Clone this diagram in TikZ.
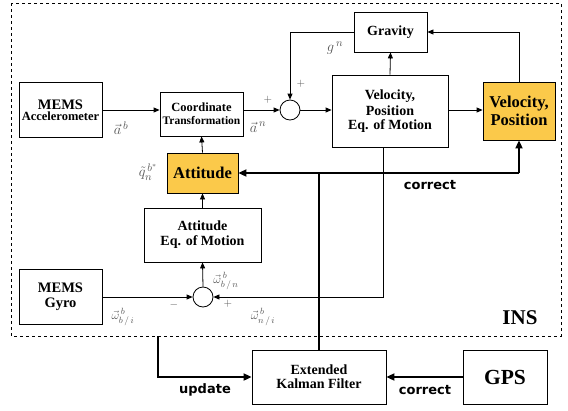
\documentclass[tikz,border=0pt]{standalone}
\usepackage{fontspec}
\setmainfont{Liberation Serif}
\newfontfamily\lblfont{DejaVu Sans}
\usetikzlibrary{arrows.meta,calc}
\definecolor{orng}{HTML}{FBC94A}
\definecolor{lblgrey}{HTML}{555555}
\newcommand{\fs}[1]{\fontsize{#1}{#1}\selectfont}
\tikzset{
  blk/.style={draw, line width=0.8pt, fill=white, align=center, inner sep=0pt, font=\bfseries},
  hot/.style={blk, fill=orng},
  sumc/.style={draw, circle, line width=0.8pt, minimum size=20pt, inner sep=0pt, fill=white},
  thin/.style={line width=0.8pt, -{Triangle[length=6pt,width=5pt]}},
  thk/.style={line width=1.8pt, -{Triangle[length=8pt,width=7pt]}},
  thkline/.style={line width=1.8pt},
  mlab/.style={text=lblgrey, inner sep=0pt},
  cmd/.style={font=\lblfont\bfseries\fs{13}, inner sep=0pt},
}
\begin{document}
\begin{tikzpicture}[x=1pt,y=-1pt]
\useasboundingbox (0,0) rectangle (568,410);
\draw[dashed, line width=0.7pt] (11,3) rectangle (561,336);
% blocks
\node[blk, minimum width=83pt, minimum height=55pt] (acc) at (60.5,110) {\fs{14.5}MEMS\\[-1pt]\fs{12.5}Accelerometer};
\node[blk, minimum width=83pt, minimum height=44pt] (coord) at (201.5,114) {\fs{12.5}Coordinate\\[1pt]\fs{11.5}Transformation};
\node[sumc] (sum1) at (290,110) {};
\node[blk, minimum width=73pt, minimum height=40pt] (grav) at (390.5,32) {\fs{14}Gravity};
\node[blk, minimum width=116pt, minimum height=72pt] (vpe) at (390,111) {\fs{14}Velocity,\\[2pt]\fs{14}Position\\[2pt]\fs{14}Eq. of Motion};
\node[hot, minimum width=72pt, minimum height=58pt] (vp) at (519,111) {\fs{16.5}Velocity,\\[2pt]\fs{16.5}Position};
\node[hot, minimum width=71pt, minimum height=40pt] (att) at (202.5,173) {\fs{16.5}Attitude};
\node[blk, minimum width=117pt, minimum height=54pt] (atte) at (202.5,235) {\fs{14}Attitude\\[3pt]\fs{14}Eq. of Motion};
\node[sumc] (sum2) at (203,297) {};
\node[blk, minimum width=83pt, minimum height=55pt] (gyro) at (60.5,296.5) {\fs{14.5}MEMS\\[3pt]\fs{14.5}Gyro};
\node[blk, minimum width=134pt, minimum height=54pt] (ekf) at (319,377) {\fs{14}Extended\\[2pt]\fs{14}Kalman Filter};
\node[blk, minimum width=84pt, minimum height=54pt] (gps) at (505,377) {\fs{21.5}GPS};
\node[font=\bfseries\fs{21}, inner sep=0pt] (ins) at (520,318) {INS};
% thin connectors
\draw[thin] (acc.east) -- (coord.west |- acc.east);
\draw[thin] (coord.east |- sum1) -- (sum1.west);
\draw[thin] (sum1.east) -- (vpe.west |- sum1);
\draw[thin] (vpe.east |- sum1) -- (vp.west |- sum1);
\draw[thin] (vpe.north) -- (grav.south);
\draw[thin] (vp.north) -- (vp.north |- grav.east) -- (grav.east);
\draw[thin] (grav.west) -- (sum1 |- grav.west) -- (sum1.north);
\draw[thin] (att.north) -- (coord.south);
\draw[thin] (atte.north) -- (att.south);
\draw[thin] (sum2.north) -- (atte.south);
\draw[thin] (gyro.east |- sum2) -- (sum2.west);
\coordinate (vb) at ([xshift=-7pt]vpe.south);
\draw[thin] (vb) -- (vb |- sum2) -- (sum2.east);
% thick connectors
\coordinate (cj) at (vp.south |- att.east);
\draw[thk] (cj) -- (att.east);
\draw[thk] (cj) -- (vp.south);
\draw[thkline] (ekf.north) -- (ekf.north |- cj);
\coordinate (up) at (158,336);
\draw[thk] (up) -- (up |- ekf.west) -- (ekf.west);
\draw[thk] (gps.west) -- (ekf.east);
% labels
\node[mlab, font=\fs{15}] (lab) at (121,128) {$\vec{a}^{\,b}$};
\node[mlab, font=\fs{15}] (lan) at (258,127) {$\vec{a}^{\,n}$};
\node[mlab, font=\fs{11}] (p1) at (268,100) {$+$};
\node[mlab, font=\fs{11}] (p2) at (301,84) {$+$};
\node[mlab, font=\fs{15}] (lg) at (335,48) {$g^{\,n}$};
\node[mlab, font=\fs{15}] (lq) at (148,172) {$\tilde{q}_n^{\,b^*}$};
\node[mlab, font=\fs{13}] (lbn) at (226,281) {$\vec{\omega}^{\,b}_{b\,/\,n}$};
\node[mlab, font=\fs{11}] (m1) at (174,305) {$-$};
\node[mlab, font=\fs{11}] (p3) at (228,304) {$+$};
\node[mlab, font=\fs{13}] (lbi) at (123,317) {$\vec{\omega}^{\,b}_{b\,/\,i}$};
\node[mlab, font=\fs{13}] (lni) at (263,317) {$\vec{\omega}^{\,b}_{n\,/\,i}$};
\node[cmd] (c1) at (430,185) {correct};
\node[cmd] (u1) at (205,390) {update};
\node[cmd] (c2) at (425,390) {correct};
\end{tikzpicture}
\end{document}
